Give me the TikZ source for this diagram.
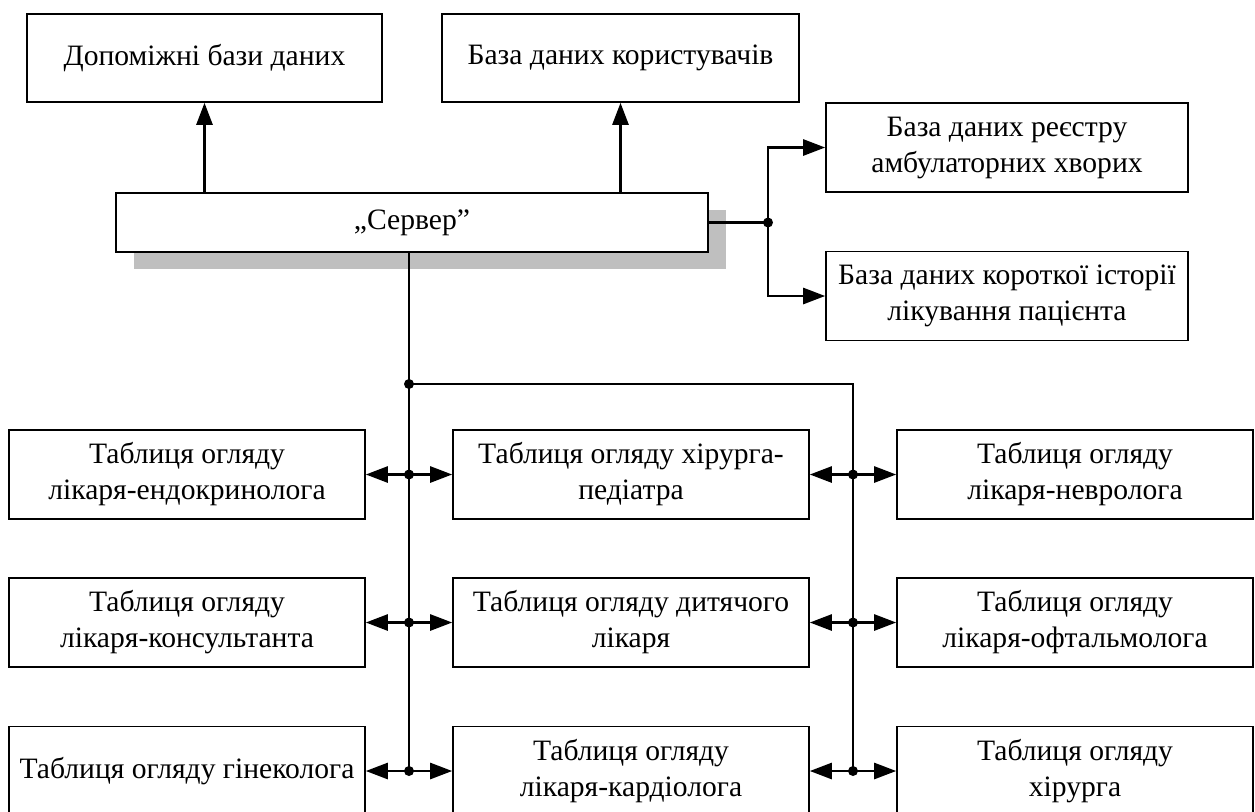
\documentclass[tikz,border=0pt]{standalone}
\usepackage{fontspec}
\setmainfont{Liberation Serif}
\usetikzlibrary{arrows.meta, shadows}

\begin{document}
\begin{tikzpicture}[
      x=0.5pt, y=-0.5pt,
      font=\fontsize{14.8pt}{18pt}\selectfont,
      >={Triangle[length=11pt, width=8pt]},
      box/.style={rectangle, draw=black, line width=0.8pt, fill=white,
                  align=center, inner sep=2pt,
                  minimum width=178pt, minimum height=44.5pt},
      srv/.style={box, minimum width=296pt, minimum height=29.5pt,
                  drop shadow={shadow xshift=9pt, shadow yshift=-8.5pt,
                               opacity=1, fill=black!25}},
      link/.style={line width=1.3pt, draw=black},
      arrow/.style={link, ->},
      both/.style={link, <->},
      junction/.style={circle, fill=black, inner sep=0pt, minimum size=5pt}
  ]
  \useasboundingbox (0,0) rectangle (1255,811);

  % databases
  \node[box, minimum width=177.5pt, minimum height=44pt] (aux)   at (204.5,58) {Допоміжні бази даних};
  \node[box, minimum width=178.5pt, minimum height=44pt] (users) at (620.5,58) {База даних користувачів};
  \node[srv]                          (server)   at (412,222.5)  {„Сервер”};
  \node[box, minimum width=181pt]     (registry) at (1007,147.5) {База даних реєстру\\амбулаторних хворих};
  \node[box, minimum width=181pt]     (history)  at (1007,296)   {База даних короткої історії\\лікування пацієнта};

  % examination tables
  \node[box] (endo)    at (187,474.5)  {Таблиця огляду\\лікаря-ендокринолога};
  \node[box] (pedsurg) at (631,474.5)  {Таблиця огляду хірурга-\\педіатра};
  \node[box] (neuro)   at (1075,474.5) {Таблиця огляду\\лікаря-невролога};
  \node[box] (consult) at (187,622.5)  {Таблиця огляду\\лікаря-консультанта};
  \node[box] (child)   at (631,622.5)  {Таблиця огляду дитячого\\лікаря};
  \node[box] (ophth)   at (1075,622.5) {Таблиця огляду\\лікаря-офтальмолога};
  \node[box] (gyn)     at (187,771)    {Таблиця огляду гінеколога};
  \node[box] (cardio)  at (631,771)    {Таблиця огляду\\лікаря-кардіолога};
  \node[box] (surg)    at (1075,771)   {Таблиця огляду\\хірурга};

  % junctions
  \node[junction] (jright) at (768,222.5) {};
  \node[junction] (jbus)   at (409,384)   {};
  \node[junction] (jl1)    at (409,474.5) {};
  \node[junction] (jl2)    at (409,622.5) {};
  \node[junction] (jl3)    at (409,771)   {};
  \node[junction] (jr1)    at (853,474.5) {};
  \node[junction] (jr2)    at (853,622.5) {};
  \node[junction] (jr3)    at (853,771)   {};

  \draw[arrow] (server.north -| aux.south)   -- (aux.south);
  \draw[arrow] (server.north -| users.south) -- (users.south);
  \draw[link]  (server.east) -- (jright.center);
  \draw[arrow] (jright.center) |- (registry.west);
  \draw[arrow] (jright.center) |- (history.west);

  % bus to the tables
  \draw[link] (server.south -| jbus) -- (jl3.center);
  \draw[link] (jbus.center) -| (jr3.center);
  \draw[both] (endo.east)    -- (pedsurg.west);
  \draw[both] (consult.east) -- (child.west);
  \draw[both] (gyn.east)     -- (cardio.west);
  \draw[both] (pedsurg.east) -- (neuro.west);
  \draw[both] (child.east)   -- (ophth.west);
  \draw[both] (cardio.east)  -- (surg.west);
\end{tikzpicture}
\end{document}
